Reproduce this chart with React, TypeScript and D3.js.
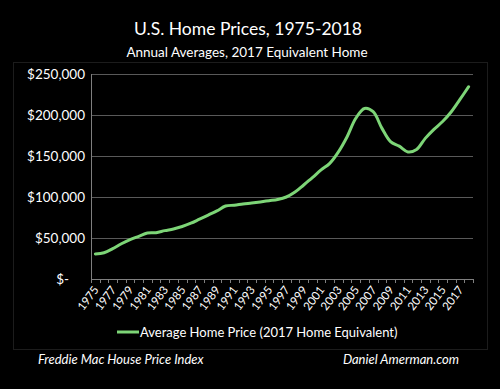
import React from 'react';
import * as d3 from 'd3';

const years = d3.range(1975, 2019).map(String);
const prices = [
  30500, 32000, 37000, 43000, 48000, 52000, 56000, 56500, 59000, 61000,
  64000, 68000, 73000, 78000, 83000, 89000, 90000, 91500, 92700, 94000,
  95500, 97000, 100000, 106000, 114600, 123500, 133000, 141000, 155000, 173500,
  196000, 208000, 204000, 184000, 167500, 162000, 155000, 158000, 171500, 182500,
  192000, 204000, 219000, 234500
];
const yTicks = [0, 50000, 100000, 150000, 200000, 250000];

const title = 'U.S. Home Prices, 1975-2018';
const subtitle = 'Annual Averages, 2017 Equivalent Home';
const legendLabel = 'Average Home Price (2017 Home Equivalent)';
const sourceLeft = 'Freddie Mac House Price Index';
const sourceRight = 'Daniel Amerman.com';

const W = 500;
const H = 389;
const margin = {top: 74, right: 27, bottom: 110, left: 91};
const FONT = 'Lato, "Open Sans", sans-serif';
const GREEN = '#7dd577';

export default function App() {
  const x = d3.scaleBand()
    .domain(years)
    .range([margin.left, W - margin.right]);

  const y = d3.scaleLinear()
    .domain([0, 250000])
    .range([H - margin.bottom, margin.top]);

  // light smoothing, like the spreadsheet's "smoothed line"
  const line = d3.line<number>()
    .x((d, i) => x(years[i])! + x.bandwidth() / 2)
    .y(d => y(d))
    .curve(d3.curveCatmullRom.alpha(0.5));

  const fmt = d3.format('$,');
  const baseY = y(0);
  const boundaries = years.map(yr => x(yr)!).concat([x.range()[1]]);

  return (
    <svg width={W} height={H} style={{position: 'absolute', left: 0, top: 0, background: '#000'}}
      fontFamily={FONT}>
      <rect x={0} y={0} width={W} height={H} fill="#000"/>
      <rect x={13.5} y={62.5} width={474} height={287} fill="none" stroke="#1c1c1c"/>

      <text x={248} y={35} textAnchor="middle" fill="#fff" fontSize={17.5}>{title}</text>
      <text x={247} y={57} textAnchor="middle" fill="#fff" fontSize={13.5}>{subtitle}</text>

      {yTicks.map(t => (
        <g key={t}>
          {t > 0 && (
            <line x1={margin.left} x2={W - margin.right} y1={Math.round(y(t)) + 0.5}
              y2={Math.round(y(t)) + 0.5} stroke="#595959" strokeWidth={1}/>
          )}
          <text x={t === 0 ? 69 : 85} y={y(t)} dy="0.35em" textAnchor="end" fill="#fff"
            fontSize={13.5}>{t === 0 ? '$-' : fmt(t)}</text>
        </g>
      ))}

      <line x1={margin.left + 0.5} x2={margin.left + 0.5} y1={margin.top} y2={baseY}
        stroke="#7f7f7f"/>
      <line x1={margin.left} x2={W - margin.right} y1={baseY + 0.5} y2={baseY + 0.5}
        stroke="#7f7f7f"/>
      {boundaries.map((b, i) => (
        <line key={i} x1={Math.round(b) + 0.5} x2={Math.round(b) + 0.5} y1={baseY}
          y2={baseY + 4} stroke="#7f7f7f"/>
      ))}

      {years.filter((yr, i) => i % 2 === 0).map(yr => {
        const cx = x(yr)! + x.bandwidth() / 2 + 4;
        const cy = baseY + 11;
        return (
          <text key={yr} x={cx} y={cy} textAnchor="end" fill="#fff" fontSize={11.5}
            transform={`rotate(-53 ${cx} ${cy})`}>{yr}</text>
        );
      })}

      <path d={line(prices)!} fill="none" stroke={GREEN} strokeWidth={3}
        strokeLinejoin="round" strokeLinecap="round"/>

      <line x1={117} x2={139} y1={332} y2={332} stroke={GREEN} strokeWidth={3}/>
      <text x={140} y={332} dy="0.35em" fill="#fff" fontSize={13}>{legendLabel}</text>

      <text x={38} y={364} fill="#fff" fontSize={13} fontStyle="italic">{sourceLeft}</text>
      <text x={459} y={364} textAnchor="end" fill="#fff" fontSize={13}
        fontStyle="italic">{sourceRight}</text>
    </svg>
  );
}
